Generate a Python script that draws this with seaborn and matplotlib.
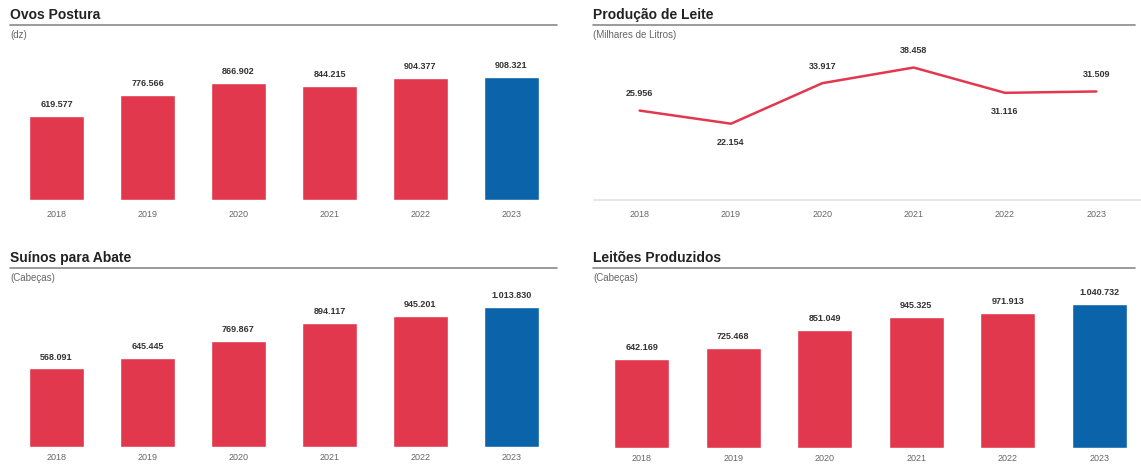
import matplotlib
matplotlib.use("Agg")
import matplotlib.pyplot as plt
import seaborn as sns
import pandas as pd
from matplotlib.lines import Line2D

# data
years = ["2018", "2019", "2020", "2021", "2022", "2023"]
ovos = [619577, 776566, 866902, 844215, 904377, 908321]
leite = [25956, 22154, 33917, 38458, 31116, 31509]
suinos = [568091, 645445, 769867, 894117, 945201, 1013830]
leitoes = [642169, 725468, 851049, 945325, 971913, 1040732]
leite_label_pos = ["above", "below", "above", "above", "below", "above"]

RED = "#E2384E"
BLUE = "#0B64A9"
W, H = 1141, 466

sns.set_theme(style="white")
plt.rcParams["font.family"] = ["Liberation Sans", "DejaVu Sans"]

fig = plt.figure(figsize=(W / 100, H / 100), dpi=100)


def fmt(v):
    return f"{v:,}".replace(",", ".")


def px_axes(x0, y0, x1, y1):
    # pixel box (top-left origin) -> figure axes
    return fig.add_axes([x0 / W, 1 - y1 / H, (x1 - x0) / W, (y1 - y0) / H])


def header(x0, x1, y, title, sub):
    fig.text(x0 / W, 1 - y / H, title, fontsize=10, fontweight="bold",
             color="#222222", va="baseline")
    fig.add_artist(Line2D([x0 / W, x1 / W], [1 - (y + 6) / H] * 2,
                          color="#8a8a8a", lw=1.2))
    fig.text(x0 / W, 1 - (y + 19) / H, sub, fontsize=7, color="#666666",
             va="baseline")


def style_axes(ax, pad=7):
    ax.set_xlabel("")
    ax.set_ylabel("")
    ax.set_yticks([])
    for s in ax.spines.values():
        s.set_visible(False)
    ax.tick_params(axis="x", length=0, labelsize=6.5, labelcolor="#666666",
                   pad=pad)


def bar_panel(ax, values, top_factor, pad=7):
    df = pd.DataFrame({"ano": years, "valor": values,
                       "cor": ["a"] * 5 + ["b"]})
    sns.barplot(data=df, x="ano", y="valor", hue="cor",
                palette={"a": RED, "b": BLUE}, width=0.6,
                saturation=1, legend=False, ax=ax, dodge=False)
    ax.set_ylim(0, max(values) * top_factor)
    ax.set_xlim(-0.5, 5.5)
    for i, v in enumerate(values):
        ax.annotate(fmt(v), (i, v), xytext=(0, 5), textcoords="offset points",
                    ha="center", va="bottom", fontsize=6.5, color="#333333",
                    fontweight="bold")
    style_axes(ax, pad)


# Ovos Postura
header(10, 557, 19, "Ovos Postura", "(dz)")
ax1 = px_axes(11, 45, 557, 200)
bar_panel(ax1, ovos, 1.26)

# Producao de Leite
header(593, 1135, 19, "Produção de Leite", "(Milhares de Litros)")
ax2 = px_axes(594, 45, 1142, 200)
sns.lineplot(x=years, y=leite, color=RED, lw=1.8, ax=ax2)
ax2.set_ylim(0, 45000)
ax2.set_xlim(-0.5, 5.5)
for i, (v, pos) in enumerate(zip(leite, leite_label_pos)):
    off = 9 if pos == "above" else -10
    ax2.annotate(fmt(v), (i, v), xytext=(0, off), textcoords="offset points",
                 ha="center", va="bottom" if pos == "above" else "top",
                 fontsize=6.5, color="#333333", fontweight="bold")
style_axes(ax2)
ax2.spines["bottom"].set_visible(True)
ax2.spines["bottom"].set_color("#e4e4e4")

# Suinos para Abate
header(10, 557, 262, "Suínos para Abate", "(Cabeças)")
ax3 = px_axes(11, 290, 557, 447)
bar_panel(ax3, suinos, 1.12, pad=4)

# Leitoes Produzidos
header(593, 1135, 262, "Leitões Produzidos", "(Cabeças)")
ax4 = px_axes(596, 288, 1145, 448)
bar_panel(ax4, leitoes, 1.11, pad=4)

fig.savefig("out.png", dpi=100)
